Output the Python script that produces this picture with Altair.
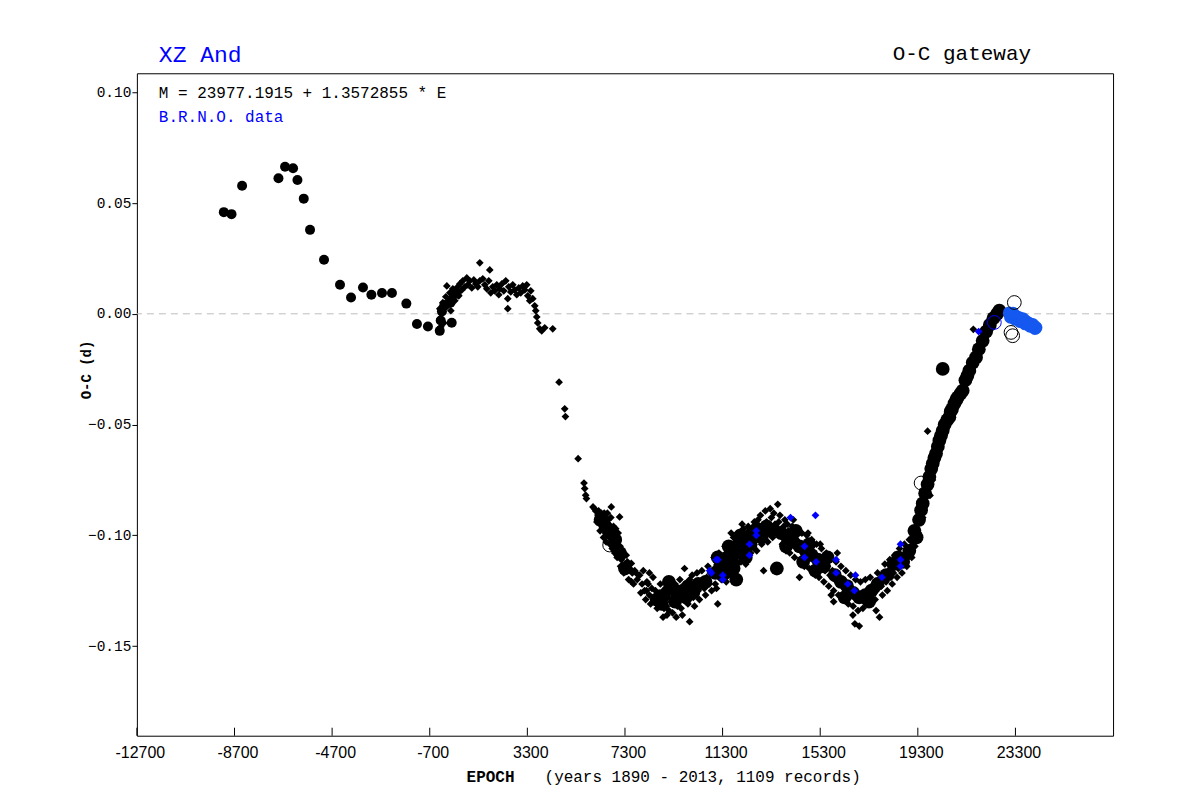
import altair as alt
import pandas as pd

# ---------------- data (epoch E, O-C in days) ----------------
X_DOMAIN = [-12700, 27300]
Y_DOMAIN = [-0.1905, 0.1086]
x_ticks = [-12700, -8700, -4700, -700, 3300, 7300, 11300, 15300, 19300, 23300]
y_ticks = [-0.15, -0.10, -0.05, 0.0, 0.05, 0.10]

# large filled circles, early minima
big1_epoch = [-9138, -8823, -8389, -6899, -6629, -6301, -6121, -5863, -5605, -5032,
              -4377, -3926, -3435, -3091, -2657, -2248, -1659, -1224, -774,
              -290, -250, -200, -100, 200, 150, 400]
big1_oc = [0.0459, 0.0450, 0.0578, 0.0612, 0.0664, 0.0657, 0.0604, 0.0520, 0.0379, 0.0244,
           0.0131, 0.0074, 0.0119, 0.0086, 0.0094, 0.0094, 0.0046, -0.0046, -0.0057,
           -0.0077, -0.0030, 0.0010, 0.0040, -0.0040, 0.0050, 0.0090]

# large filled circles, later minima
big2_epoch = [6300, 6500, 6700, 6900, 7100, 7300,
              8600, 8800, 8900, 9100, 9267, 9350, 9500, 9677, 9800, 9900, 10100, 10300, 10600,
              11000, 11100, 11200, 11300, 11350, 11500, 11550, 11650, 11750, 11800, 11950, 12050,
              12100, 12250, 12300, 12450, 12500, 12700, 12900, 13100, 13300,
              11400, 11700, 11860, 12000, 12200, 13522,
              13700, 13900, 13950, 14200, 14300, 14450, 14600, 14700, 14850, 14950, 15100, 15200,
              15450, 15600, 15900, 16150, 16300,
              16400, 16650, 16900, 17150, 17300, 17400, 17650, 18000, 18300, 18500,
              18700, 18950, 19160, 19250, 19350, 19434, 19500, 19600, 19700, 19774,
              19850, 19910, 19980, 20046, 20120, 20183, 20250, 20320, 20400, 20500,
              20592, 20650, 20700, 20797, 20870, 20933, 21050, 21138, 21250, 21330,
              21411, 21550, 21684, 21800, 21957, 22100, 22250, 22400, 22550, 22640,
              20320]
big2_oc = [-0.093, -0.096, -0.099, -0.102, -0.108, -0.115,
           -0.129, -0.131, -0.127, -0.121, -0.124, -0.130, -0.127, -0.125, -0.128, -0.123, -0.126,
           -0.122, -0.121,
           -0.117, -0.110, -0.114, -0.118, -0.112, -0.110, -0.105, -0.108, -0.115, -0.106, -0.104,
           -0.100, -0.103, -0.110, -0.101, -0.104, -0.099, -0.097, -0.101, -0.096, -0.098,
           -0.116, -0.112, -0.120, -0.108, -0.105, -0.115,
           -0.099, -0.105, -0.101, -0.103, -0.098, -0.105, -0.112, -0.107, -0.104, -0.109, -0.116,
           -0.111, -0.114, -0.110, -0.118, -0.121, -0.128,
           -0.123, -0.126, -0.128, -0.127, -0.130, -0.125, -0.122, -0.118, -0.113, -0.110,
           -0.112, -0.107, -0.098, -0.101, -0.093, -0.0887, -0.0856, -0.081, -0.077, -0.0736,
           -0.070, -0.0676, -0.065, -0.0631, -0.060, -0.0572, -0.055, -0.0527, -0.050, -0.048,
           -0.0467, -0.044, -0.043, -0.0406, -0.039, -0.0377, -0.036, -0.0347, -0.030, -0.028,
           -0.0257, -0.022, -0.0197, -0.016, -0.0122, -0.008, -0.005, -0.002, 0.000, 0.0014,
           -0.0249]

# small black diamonds
small_epoch = [
    -287, -287, -246, -205, -164, -123, -41, 0, 0, 82, 123, 164, 205, 246, 328, 368, 450, 491,
    532, 614, 655, 737, 819, 860, 942, 1023, 1105, 1187, 1269, 1351, 1351, 1474, 1556, 1638,
    1719, 1760, 1801, 1883, 1965, 2047, 2129, 2170, 2252, 2334, 2415, 2497, 2497, 2538, 2620,
    2702, 2784, 2866, 2948, 3030, 3111, 3193, 3275, 3316, 3398, 3439, 3521, 3603, 3644, 3685,
    3725, 3807, 3889, 4012, 4340,
    4600, 4830, 4860, 5380, 5620, 5650, 5690, 5720, 5990, 6100, 6190, 6250, 6300, 6350, 6400,
    6450, 6450, 6500, 6550, 6580, 6600, 6650, 6700, 6740, 6750, 6800, 6850, 6900, 6950, 7000,
    7050, 7080, 7100, 7150, 7200, 7300, 7400, 7500, 7560, 7600, 7560, 7700, 7770, 7800,
    8000, 8100, 8180, 8200, 8300, 8300, 8400, 8500, 8590, 8650, 8700, 8800, 8860, 8900, 9000,
    9050, 9100, 9200, 9300, 9400, 9450, 9500, 9600, 9700, 9740, 9800, 9850, 9950, 9950, 10000,
    10100, 10200, 10300, 10400, 10500, 10550, 10650, 10750, 10800, 11100,
    10900, 11000, 11100, 11200, 11300, 11350, 11450, 11500, 11600, 11650, 11700, 11800, 11850,
    11950, 12000, 12100, 12200, 12300, 12400, 12500, 12550, 12650, 12750, 12800, 12900, 12980,
    13000, 13100, 13200, 13300, 13560, 13450, 11550, 11900, 12200, 11250, 11000, 12600, 12100,
    13500, 13600, 13700, 13800, 13900, 14000, 14100, 14200, 14300, 14400, 14450, 14500, 14600,
    14700, 14800, 14900, 15000, 15100, 15200, 15300, 15400, 15500, 15600, 15700, 15750, 15850,
    15800, 15900, 16000, 16000, 16100, 16200, 16300, 16400, 16500, 16600, 16640, 16720, 16900,
    14200, 14800, 15300, 13900, 14600, 15100,
    16700, 16800, 16900, 17000, 17100, 17200, 17300, 17400, 17450, 17500, 17590, 17600, 17700,
    17730, 17800, 17900, 18000, 18100, 18200, 18300, 18400, 18500, 18600, 18700, 18800, 18900,
    19000, 19100, 19180, 19320, 19500, 19700, 19800, 19900, 20000, 20100,
    20500, 21000, 21575, 21400, 22000, 22300, 22600, 22700, 21800, 21200, 20800,
    6050, 6150, 6220, 6280, 6330, 6420, 6480, 6530, 6620, 6680, 6720, 6780, 6830, 6880, 6920,
    6980, 7020, 7120, 7250, 7350, 7450, 7650, 7900, 7950, 8050, 8150, 8250, 8350, 8450, 8550,
    8620, 8750, 8830, 8950, 9020, 9150, 9250, 9350, 9420, 9550, 9650, 9750, 9880, 10050, 10150,
    10250, 10350, 10450, 10600, 10700, 10850, 10950, 11050, 11150, 11250, 11400, 11450, 11550,
    11600, 11750, 11800, 11900, 12050, 12150, 12250, 12350, 12450, 12600, 12700, 12850, 12900,
    13050, 13150, 13250, 13350, 13400, 13650, 13750, 13850, 13950, 14050, 14150, 14250, 14350,
    14550, 14650, 14750, 14850, 14950, 15050, 15150, 15250, 15350, 15450, 15550, 15650, 15700,
    15850, 15950, 16050, 16150, 16250, 16350, 16450, 16550, 16650, 16750, 16850, 16950, 17050,
    17150, 17250, 17350, 17550, 17650, 17850, 17950, 18050, 18150, 18250, 18350, 18450, 18550,
    18650, 18750, 18850, 18950, 19050]
small_oc = [
    0.0023, -0.0023, -0.0059, 0.0005, 0.0050, -0.0041, 0.0077, 0.0032, 0.0126, 0.0059, 0.0095,
    0.0014, 0.0077, 0.0113, 0.0059, 0.0104, 0.0122, 0.0081, 0.0135, 0.0108, 0.0149, 0.0122,
    0.0162, 0.0131, 0.0149, 0.0117, 0.0153, 0.0135, 0.0122, 0.0230, 0.0149, 0.0158, 0.0131,
    0.0113, 0.0149, 0.0198, 0.0095, 0.0122, 0.0104, 0.0131, 0.0086, 0.0113, 0.0135, 0.0104,
    0.0149, 0.0068, 0.0023, 0.0122, 0.0099, 0.0131, 0.0108, 0.0086, 0.0117, 0.0095, 0.0126,
    0.0108, 0.0131, 0.0081, 0.0059, 0.0104, 0.0068, 0.0036, 0.0014, -0.0014, -0.0041, -0.0068,
    -0.0077, -0.0063, -0.0068,
    -0.0309, -0.0429, -0.0464, -0.0654, -0.0764, -0.0789, -0.0819, -0.0834, -0.0872, -0.0890,
    -0.0909, -0.0930, -0.0950, -0.0920, -0.0970, -0.0940, -0.0900, -0.0990, -0.0960, -0.0900,
    -0.0930, -0.1000, -0.0970, -0.0872, -0.1020, -0.0990, -0.1040, -0.1010, -0.1060, -0.1030,
    -0.1080, -0.0917, -0.1050, -0.1110, -0.1100, -0.1130, -0.1120, -0.1150, -0.1127, -0.1170,
    -0.1209, -0.1160, -0.1172, -0.1200,
    -0.122, -0.125, -0.125, -0.121, -0.117, -0.127, -0.124, -0.128, -0.128, -0.131, -0.126,
    -0.130, -0.137, -0.133, -0.132, -0.128, -0.134, -0.130, -0.127, -0.137, -0.132, -0.129,
    -0.133, -0.127, -0.115, -0.130, -0.124, -0.139, -0.120, -0.126, -0.128, -0.123, -0.125,
    -0.121, -0.120, -0.124, -0.119, -0.122, -0.117, -0.131,
    -0.118, -0.115, -0.116, -0.112, -0.114, -0.110, -0.112, -0.108, -0.110, -0.099, -0.107,
    -0.109, -0.104, -0.106, -0.102, -0.105, -0.101, -0.103, -0.099, -0.102, -0.097, -0.100,
    -0.093, -0.098, -0.096, -0.116, -0.099, -0.094, -0.097, -0.092, -0.086, -0.095, -0.118,
    -0.113, -0.109, -0.120, -0.122, -0.106, -0.095,
    -0.096, -0.094, -0.098, -0.096, -0.100, -0.098, -0.102, -0.100, -0.104, -0.103, -0.119,
    -0.106, -0.104, -0.108, -0.106, -0.110, -0.108, -0.112, -0.110, -0.114, -0.112, -0.116,
    -0.114, -0.118, -0.127, -0.130, -0.116, -0.120, -0.108, -0.118, -0.122, -0.120, -0.124,
    -0.122, -0.126, -0.124, -0.136, -0.140, -0.141,
    -0.093, -0.099, -0.104, -0.107, -0.113, -0.118,
    -0.128, -0.126, -0.129, -0.127, -0.130, -0.125, -0.128, -0.124, -0.126, -0.122, -0.134,
    -0.125, -0.120, -0.137, -0.123, -0.118, -0.121, -0.116, -0.119, -0.117, -0.113, -0.115,
    -0.111, -0.113, -0.108, -0.110, -0.105, -0.103, -0.105, -0.099, -0.092, -0.053, -0.082,
    -0.075, -0.068, -0.062,
    -0.047, -0.035, -0.007, -0.027, -0.011, -0.005, 0.000, 0.001, -0.016, -0.030, -0.041,
    -0.088, -0.094, -0.089, -0.098, -0.090, -0.101, -0.092, -0.103, -0.095, -0.104, -0.092,
    -0.106, -0.096, -0.108, -0.097, -0.110, -0.099, -0.114, -0.117, -0.109, -0.120, -0.122,
    -0.118, -0.126, -0.116, -0.129, -0.122, -0.131, -0.119, -0.125, -0.133, -0.122, -0.128,
    -0.124, -0.136, -0.121, -0.135, -0.122, -0.129, -0.120, -0.136, -0.122, -0.131, -0.118,
    -0.132, -0.117, -0.129, -0.116, -0.127, -0.114, -0.125, -0.110, -0.124, -0.108, -0.113,
    -0.105, -0.121, -0.104, -0.116, -0.101, -0.115, -0.099, -0.112, -0.097, -0.113, -0.096,
    -0.108, -0.094, -0.107, -0.091, -0.104, -0.089, -0.103, -0.088, -0.101, -0.090, -0.091,
    -0.104, -0.093, -0.095, -0.108, -0.096, -0.110, -0.097, -0.099, -0.114, -0.100, -0.115,
    -0.102, -0.117, -0.104, -0.119, -0.106, -0.121, -0.108, -0.123, -0.110, -0.125, -0.112,
    -0.127, -0.114, -0.129, -0.116, -0.131, -0.118, -0.132, -0.120, -0.134, -0.121, -0.133,
    -0.120, -0.131, -0.119, -0.129, -0.117, -0.127, -0.113, -0.125, -0.111, -0.122, -0.109,
    -0.119, -0.106, -0.117, -0.104, -0.114, -0.102, -0.110]

# B.R.N.O. small diamonds
brno_d_epoch = [10770, 10840, 11040, 11110, 11310, 11310, 12405, 12405, 12680, 12680, 14083,
                15106, 14656, 14656, 15134, 15953, 15953, 16431, 16700, 16745, 17830, 18590,
                18590, 18590, 21792]
brno_d_oc = [-0.116, -0.117, -0.111, -0.111, -0.120, -0.118, -0.104, -0.109, -0.098, -0.100,
             -0.092, -0.091, -0.105, -0.110, -0.112, -0.111, -0.117, -0.122, -0.125, -0.118,
             -0.119, -0.104, -0.111, -0.114, -0.008]

# B.R.N.O. large filled circles
brno_c_epoch = [23050, 23150, 23250, 23350, 23450, 23550, 23650, 23750, 23850, 23950, 24050,
                24140, 23100, 23300, 23500, 23700, 23900, 24100, 23200, 23600, 24000]
brno_c_oc = [0.0004, -0.0005, -0.0008, -0.0013, -0.0018, -0.0024, -0.0030, -0.0036, -0.0043,
             -0.0050, -0.0056, -0.0062, -0.0015, -0.0025, -0.0035, -0.0045, -0.0056, -0.0066,
             0.0002, -0.0022, -0.0048]

# open circles
open_epoch = [6673, 19434, 23254, 23118, 23186]
open_oc = [-0.1044, -0.0764, 0.0051, -0.0084, -0.0099]
brno_open_epoch = [22435]
brno_open_oc = [-0.0039]

# ---------------- chart ----------------
BLUE = "#0000ff"
BLUE_C = "#1458f0"
xs = alt.Scale(domain=X_DOMAIN, nice=False, zero=False)
ys = alt.Scale(domain=Y_DOMAIN, nice=False, zero=False)

x_axis = alt.Axis(values=x_ticks, labelExpr="toString(datum.value)", ticks=False, tickSize=0,
                  domain=False, grid=False, labelFont="Liberation Sans", labelFontSize=16,
                  labelPadding=9, labelFlush=False, labelOverlap=False, title=None,
                  labelColor="black", labelOffset=3)
y_axis = alt.Axis(values=y_ticks, format=".2f", tickSize=5, tickColor="black", domain=False,
                  grid=False, labelFont="Liberation Mono", labelFontSize=14.5, labelPadding=1,
                  labelFlush=False, labelOverlap=False, title=None, labelColor="black")


def df(ep, oc):
    return pd.DataFrame({"E": ep, "OC": oc})


def xy():
    return dict(x=alt.X("E:Q", scale=xs, axis=x_axis),
                y=alt.Y("OC:Q", scale=ys, axis=y_axis))


zero = alt.Chart(pd.DataFrame({"OC": [0.0]})).mark_rule(
    color="#bdbdbd", strokeDash=[7, 5], strokeWidth=1
).encode(y=alt.Y("OC:Q", scale=ys, axis=y_axis))

xtick_rules = alt.Chart(pd.DataFrame({"E": x_ticks})).mark_rule(color="black").encode(
    x=alt.X("E:Q", scale=xs, axis=x_axis), y=alt.value(663), y2=alt.value(655))

small = alt.Chart(df(small_epoch, small_oc)).mark_point(
    shape="diamond", filled=True, color="black", size=60, opacity=1).encode(**xy())
big1 = alt.Chart(df(big1_epoch, big1_oc)).mark_circle(
    color="black", size=100, opacity=1).encode(**xy())
big2 = alt.Chart(df(big2_epoch, big2_oc)).mark_circle(
    color="black", size=190, opacity=1).encode(**xy())
brno_d = alt.Chart(df(brno_d_epoch, brno_d_oc)).mark_point(
    shape="diamond", filled=True, color=BLUE, size=60, opacity=1).encode(**xy())
brno_c = alt.Chart(df(brno_c_epoch, brno_c_oc)).mark_circle(
    color=BLUE_C, size=170, opacity=1).encode(**xy())
opn = alt.Chart(df(open_epoch, open_oc)).mark_point(
    shape="circle", filled=False, color="black", size=190, strokeWidth=1, opacity=1).encode(**xy())
brno_opn = alt.Chart(df(brno_open_epoch, brno_open_oc)).mark_point(
    shape="circle", filled=False, color=BLUE, size=190, strokeWidth=1, opacity=1).encode(**xy())


def label(txt, x, y, size, color="black", font="Liberation Mono", weight="normal",
          align="left"):
    return alt.Chart(pd.DataFrame({"t": [txt]})).mark_text(
        font=font, fontSize=size, color=color, fontWeight=weight, align=align,
        baseline="alphabetic").encode(
        text="t:N", x=alt.value(x), y=alt.value(y))


t_star = label("XZ And", 22, -11, 23, color=BLUE)
t_gate = label("O-C gateway", 895, -13, 21, align="right")
t_elem = label("M = 23977.1915 + 1.3572855 * E", 22, 25, 16)
t_brno = label("B.R.N.O. data", 22, 49, 16, color=BLUE)
t_ytitle = alt.Chart(pd.DataFrame({"t": ["O-C (d)"]})).mark_text(
    font="Liberation Mono", fontSize=14, fontWeight="bold", color="black",
    align="center", baseline="middle", angle=270).encode(
    text="t:N", x=alt.value(-50), y=alt.value(297))
t_epoch = label("EPOCH", 330, 709, 16, weight="bold")
t_years = label("(years 1890 - 2013, 1109 records)", 408, 709, 16)

chart = alt.layer(
    zero, xtick_rules, small, big1, big2, brno_d, brno_c, opn, brno_opn,
    t_star, t_gate, t_elem, t_brno, t_ytitle, t_epoch, t_years
).properties(
    width=977, height=663,
    padding={"left": 129, "top": 65, "right": 70, "bottom": 56},
    autosize=alt.AutoSizeParams(type="none"),
    background="white",
).configure_view(stroke="black", strokeWidth=1)

chart.save("out.html", embed_options={"renderer": "svg", "actions": False})
